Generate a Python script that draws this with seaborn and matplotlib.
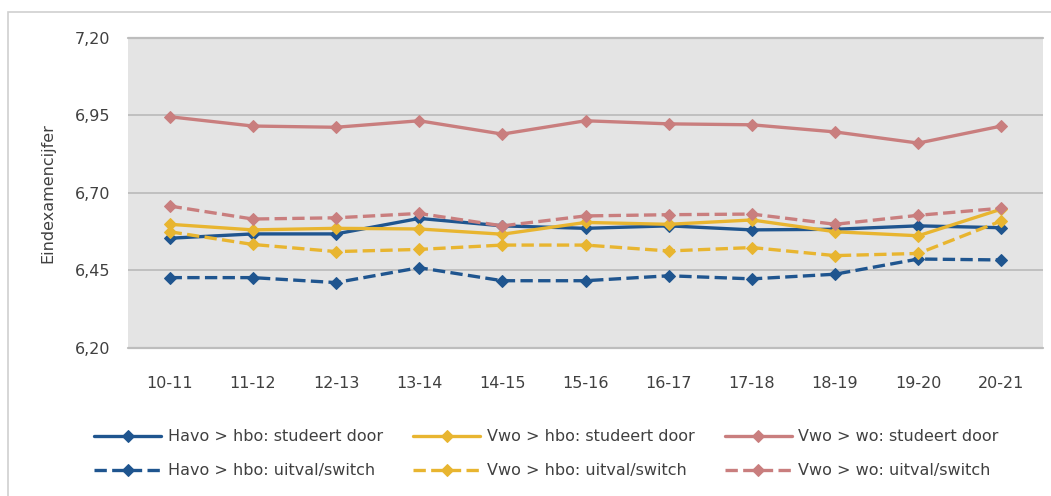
import pandas as pd
import numpy as np
import matplotlib.pyplot as plt
import seaborn as sns
from matplotlib.patches import Rectangle

# jaren en cijfers
jaren = ['10-11', '11-12', '12-13', '13-14', '14-15', '15-16',
         '16-17', '17-18', '18-19', '19-20', '20-21']

havo_hbo_door = [6.554, 6.568, 6.568, 6.618, 6.594, 6.586, 6.594, 6.581, 6.583, 6.594, 6.588]
vwo_hbo_door = [6.599, 6.581, 6.586, 6.584, 6.567, 6.605, 6.599, 6.613, 6.575, 6.562, 6.648]
vwo_wo_door = [6.946, 6.916, 6.912, 6.933, 6.890, 6.933, 6.923, 6.920, 6.897, 6.861, 6.916]
havo_hbo_uitval = [6.427, 6.427, 6.411, 6.459, 6.417, 6.417, 6.433, 6.423, 6.438, 6.487, 6.484]
vwo_hbo_uitval = [6.575, 6.534, 6.511, 6.518, 6.532, 6.532, 6.513, 6.524, 6.498, 6.505, 6.610]
vwo_wo_uitval = [6.658, 6.616, 6.620, 6.634, 6.594, 6.626, 6.630, 6.632, 6.599, 6.628, 6.651]

reeksen = [
    ('Havo > hbo: studeert door', havo_hbo_door, '#1F558F', '-'),
    ('Havo > hbo: uitval/switch', havo_hbo_uitval, '#1F558F', '--'),
    ('Vwo > hbo: studeert door', vwo_hbo_door, '#E8B530', '-'),
    ('Vwo > hbo: uitval/switch', vwo_hbo_uitval, '#E8B530', '--'),
    ('Vwo > wo: studeert door', vwo_wo_door, '#C97E7E', '-'),
    ('Vwo > wo: uitval/switch', vwo_wo_uitval, '#C97E7E', '--'),
]

sns.set_style("white")
plt.rcParams['font.family'] = ['DejaVu Sans']

fig = plt.figure(figsize=(10.51, 4.96), dpi=100)
ax = fig.add_axes([0.1218, 0.2984, 0.8706, 0.625])
ax.set_facecolor('#E4E4E4')

# kadertje rond de hele grafiek
fig.patches.append(Rectangle((8 / 1051, -0.1), 1.2, 1 - 12 / 496 + 0.1,
                             transform=fig.transFigure, fill=False,
                             edgecolor='#D0D0D0', linewidth=1.2))

x = np.arange(len(jaren))
for naam, waarden, kleur, stijl in reeksen:
    df = pd.DataFrame({'x': x, 'y': waarden})
    sns.lineplot(data=df, x='x', y='y', ax=ax, color=kleur, linestyle=stijl,
                 linewidth=2.4, marker='D', markersize=6.5, markeredgecolor=kleur,
                 label=naam, legend=False)

ax.set_xlim(-0.5, len(jaren) - 0.5)
ax.set_ylim(6.20, 7.20)
ax.set_xticks(x)
ax.set_xticklabels(jaren)
yt = [6.20, 6.45, 6.70, 6.95, 7.20]
ax.set_yticks(yt)
ax.set_yticklabels([f'{v:.2f}'.replace('.', ',') for v in yt])
ax.tick_params(axis='both', length=0, labelsize=11.5, labelcolor='#404040')
ax.tick_params(axis='x', pad=20)
ax.tick_params(axis='y', pad=13)
ax.grid(axis='y', color='#BDBDBD', linewidth=1.3)
for yy in (6.20, 7.20):
    ax.axhline(yy, color='#BDBDBD', linewidth=1.6, clip_on=False, zorder=0.5)
ax.set_axisbelow(True)
for s in ax.spines.values():
    s.set_visible(False)
ax.set_xlabel('')
ax.set_ylabel('Eindexamencijfer', fontsize=11.5, color='#404040', labelpad=14)

handles, labels = ax.get_legend_handles_labels()
fig.legend(handles, labels, ncol=3, loc='center', bbox_to_anchor=(0.52, 0.085),
           frameon=False, fontsize=11.5, handlelength=4.2, columnspacing=1.9,
           labelspacing=1.2, handletextpad=0.4, labelcolor='#404040')

plt.savefig('out.png', dpi=100)
